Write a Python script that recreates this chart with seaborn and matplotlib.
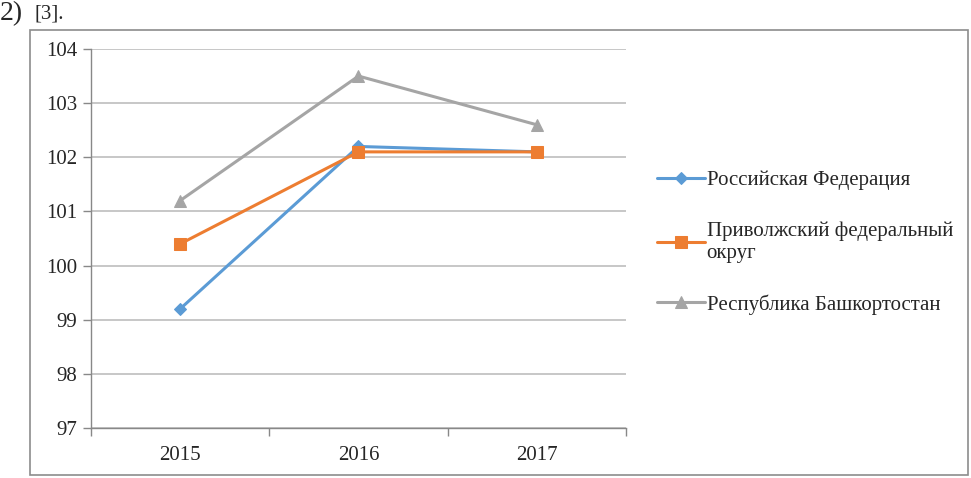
import pandas as pd
import matplotlib.pyplot as plt
from matplotlib.patches import Rectangle
from matplotlib.ticker import FixedLocator
import seaborn as sns

years = ['2015', '2016', '2017']
series_names = ['Российская Федерация', 'Приволжский федеральный\nокруг', 'Республика Башкортостан']
rf_values = [99.2, 102.2, 102.1]
pfo_values = [100.4, 102.1, 102.1]
rb_values = [101.2, 103.5, 102.6]
y_ticks = [97, 98, 99, 100, 101, 102, 103, 104]

colors = ['#5b9bd5', '#ed7d31', '#a5a5a5']
markers = ['D', 's', '^']
marker_sizes = [6, 8, 8]

rows = []
for name, vals in zip(series_names, [rf_values, pfo_values, rb_values]):
    for i, v in enumerate(vals):
        rows.append({'year': i, 'value': v, 'series': name})
df = pd.DataFrame(rows)

sns.set_style('white')
plt.rcParams['font.family'] = ['Liberation Serif', 'DejaVu Serif']

fig = plt.figure(figsize=(9.71, 4.78), dpi=100)
ax = fig.add_axes([0.0937, 0.1046, 0.551, 0.7929])

for name, c, m, ms in zip(series_names, colors, markers, marker_sizes):
    sub = df[df['series'] == name]
    sns.lineplot(data=sub, x='year', y='value', color=c, marker=m, markersize=ms,
                 markeredgecolor=c, linewidth=2.2, label=name, ax=ax, zorder=3)

ax.set_xlim(-0.5, 2.5)
ax.set_ylim(97, 104)
ax.set_yticks(y_ticks)
ax.set_xticks([0, 1, 2])
ax.set_xticklabels(years)
ax.xaxis.set_minor_locator(FixedLocator([-0.5, 0.5, 1.5, 2.5]))
ax.tick_params(axis='x', which='major', length=0, pad=13, labelsize=15)
ax.tick_params(axis='x', which='minor', length=6, color='#888888', width=1, bottom=True)
ax.tick_params(axis='y', length=6, color='#888888', width=1, left=True, pad=4, labelsize=15)
ax.set_xlabel('')
ax.set_ylabel('')
ax.yaxis.grid(True, color='#bdbdbd', linewidth=1.2)
ax.xaxis.grid(False)
for s in ['top', 'right']:
    ax.spines[s].set_visible(False)
for s in ['left', 'bottom']:
    ax.spines[s].set_color('#888888')
    ax.spines[s].set_linewidth(1)

ax.legend(loc='center left', bbox_to_anchor=(0.657, 0.492), bbox_transform=fig.transFigure,
          frameon=False, fontsize=15, handlelength=2.3, handletextpad=0.1,
          labelspacing=1.5)

fig.patches.append(Rectangle((30 / 971, 3 / 478), 938 / 971, 445 / 478, transform=fig.transFigure,
                             fill=False, edgecolor='#8c8c8c', linewidth=1.2))
fig.text(0.0, 0.998, '2)', fontsize=20, va='top', ha='left')
fig.text(0.036, 0.99, '[3].', fontsize=15, va='top', ha='left')

fig.savefig('out.png', dpi=100)
